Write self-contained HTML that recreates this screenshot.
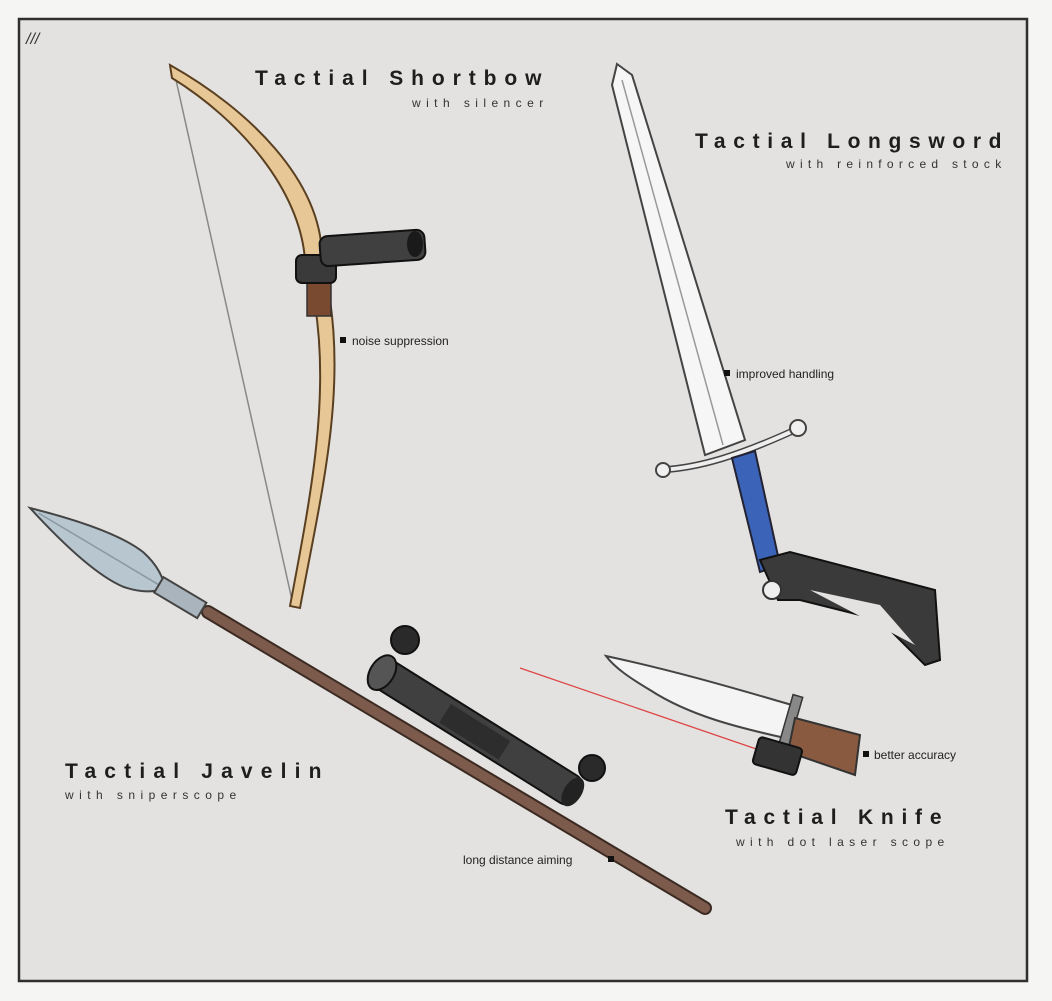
<!DOCTYPE html>
<html><head><meta charset="utf-8"><style>
html,body{margin:0;padding:0;background:#f4f4f3;}
svg{display:block;}
.t{font-family:"Liberation Sans","DejaVu Sans",sans-serif;font-weight:bold;fill:#1e1e1e;letter-spacing:5.5px;}
.s{font-family:"Liberation Sans","DejaVu Sans",sans-serif;fill:#333;letter-spacing:3.8px;font-size:12px;}
.n{font-family:"Liberation Sans",sans-serif;fill:#222;font-size:12px;}
</style></head><body>
<svg width="1052" height="1001" viewBox="0 0 1052 1001">
<rect x="0" y="0" width="1052" height="1001" fill="#f5f5f4"/>
<rect x="19" y="19" width="1008" height="962" fill="#e3e2e0" stroke="#2f2f2f" stroke-width="2.5"/>
<text x="26" y="44" font-family="Liberation Sans" font-size="16" fill="#333" font-style="italic">///</text>

<!-- Bow -->
<line x1="176" y1="80" x2="292" y2="600" stroke="#888" stroke-width="1.5"/>
<path d="M170,65 C250,110 320,180 322,255 L330,300 C345,400 320,500 300,608 L290,606 C310,500 330,400 315,305 L305,260 C300,190 240,120 172,78 Z" fill="#e6c795" stroke="#5a4020" stroke-width="2"/>
<rect x="307" y="280" width="24" height="36" fill="#7a4a30" stroke="#333" stroke-width="1.5"/>
<rect x="296" y="255" width="40" height="28" rx="6" fill="#3a3a3a" stroke="#111" stroke-width="2"/>
<rect x="320" y="233" width="105" height="30" rx="8" fill="#404040" stroke="#111" stroke-width="2" transform="rotate(-4 372 248)"/>
<ellipse cx="415" cy="244" rx="8" ry="13" fill="#1a1a1a"/>
<rect x="340" y="337" width="6" height="6" fill="#111"/>
<text class="n" x="352" y="345">noise suppression</text>

<!-- Sword -->
<g>
<path d="M617,64 L632,75 L745,440 L705,455 L612,85 Z" fill="#f6f6f6" stroke="#444" stroke-width="2"/>
<line x1="622" y1="80" x2="723" y2="445" stroke="#999" stroke-width="1.5"/>
<path d="M660,470 C700,468 740,455 795,430" stroke="#444" stroke-width="7" fill="none" stroke-linecap="round"/>
<path d="M660,470 C700,468 740,455 795,430" stroke="#eee" stroke-width="4" fill="none" stroke-linecap="round"/>
<circle cx="663" cy="470" r="7" fill="#f0f0f0" stroke="#444" stroke-width="2"/>
<circle cx="798" cy="428" r="8" fill="#f0f0f0" stroke="#444" stroke-width="2"/>
<path d="M732,458 L755,451 L780,565 L760,572 Z" fill="#3b64b8" stroke="#223" stroke-width="2"/>
<path d="M760,560 L790,552 L935,590 L940,660 L925,665 L880,620 L800,600 L778,600 Z" fill="#3a3a3a" stroke="#111" stroke-width="2"/>
<path d="M810,590 L880,605 L915,645 Z" fill="#e3e2e0"/>
<circle cx="772" cy="590" r="9" fill="#eee" stroke="#333" stroke-width="2"/>
<rect x="724" y="370" width="6" height="6" fill="#111"/>
<text class="n" x="736" y="378">improved handling</text>
</g>

<!-- Javelin -->
<line x1="208" y1="612" x2="705" y2="908" stroke="#3b2a22" stroke-width="14" stroke-linecap="round"/>
<line x1="208" y1="612" x2="705" y2="908" stroke="#7c5a4c" stroke-width="10" stroke-linecap="round"/>
<g transform="translate(30 508) rotate(30.8)">
<path d="M0,0 C40,-12 90,-24 120,-20 C140,-16 150,-8 158,0 C150,8 140,16 120,20 C90,24 40,12 0,0 Z" fill="#b8c6d0" stroke="#444" stroke-width="2"/>
<line x1="10" y1="0" x2="150" y2="0" stroke="#8a98a4" stroke-width="1.5"/>
<rect x="150" y="-9" width="50" height="18" fill="#aab4bc" stroke="#444" stroke-width="2"/>
</g>
<g transform="rotate(32 470 730)">
<rect x="360" y="712" width="235" height="32" rx="10" fill="#404040" stroke="#111" stroke-width="2"/>
<rect x="440" y="718" width="70" height="22" fill="#2d2d2d"/>
<ellipse cx="365" cy="728" rx="12" ry="19" fill="#555" stroke="#111" stroke-width="2"/>
<ellipse cx="590" cy="728" rx="9" ry="16" fill="#222"/>
</g>
<circle cx="405" cy="640" r="14" fill="#2a2a2a" stroke="#111" stroke-width="2"/>
<circle cx="592" cy="768" r="13" fill="#2a2a2a" stroke="#111" stroke-width="2"/>
<rect x="608" y="856" width="6" height="6" fill="#111"/>
<text class="n" x="463" y="864">long distance aiming</text>

<!-- Knife -->
<line x1="520" y1="668" x2="765" y2="752" stroke="#d44" stroke-width="1.2"/>
<path d="M606,656 C680,672 740,690 792,705 L785,738 C740,728 690,716 650,690 C630,678 615,668 606,656 Z" fill="#f4f4f4" stroke="#444" stroke-width="2"/>
<rect x="786" y="695" width="10" height="50" fill="#888" stroke="#333" stroke-width="1.5" transform="rotate(16 791 720)"/>
<path d="M795,718 L860,735 L855,775 L788,752 Z" fill="#8a5a40" stroke="#333" stroke-width="2"/>
<rect x="755" y="742" width="45" height="28" rx="4" fill="#333" stroke="#111" stroke-width="2" transform="rotate(16 777 756)"/>
<rect x="863" y="751" width="6" height="6" fill="#111"/>
<text class="n" x="874" y="759">better accuracy</text>

<!-- Titles -->
<text class="t" x="255" y="85" font-size="21" textLength="292">Tactial Shortbow</text>
<text class="s" x="412" y="107" textLength="135">with silencer</text>
<text class="t" x="695" y="148" font-size="21" textLength="312">Tactial Longsword</text>
<text class="s" x="786" y="168" textLength="219">with reinforced stock</text>
<text class="t" x="65" y="778" font-size="21" textLength="262">Tactial Javelin</text>
<text class="s" x="65" y="799" textLength="175">with sniperscope</text>
<text class="t" x="725" y="824" font-size="21" textLength="222">Tactial Knife</text>
<text class="s" x="736" y="846" textLength="212">with dot laser scope</text>
</svg>
</body></html>
